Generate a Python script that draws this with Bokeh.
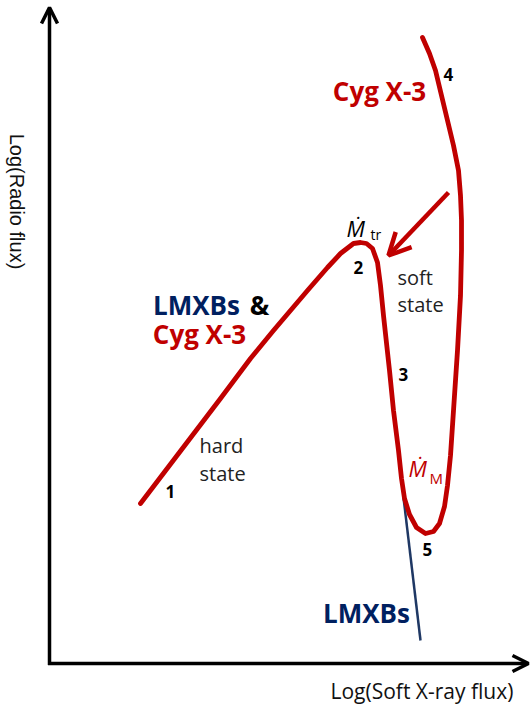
import math
from bokeh.plotting import figure
from bokeh.models import Range1d, Arrow, OpenHead
from bokeh.core.properties import value
from bokeh.embed import file_html
from bokeh.resources import INLINE

# ---- data (arbitrary log units, origin at the axes corner) ----
track_x = [91, 171, 201, 224, 258, 278, 291, 304, 311, 317, 323, 328, 331, 334, 340,
           344, 349, 352, 355, 360, 367, 376, 384, 390, 395, 398, 401, 404,
           408, 411, 412, 412, 411, 409, 404, 398, 392, 386, 380, 373]
track_y = [160, 265, 305, 333, 373, 396, 410, 420, 421, 420, 415, 401, 378, 348, 293,
           253, 213, 185, 165, 149, 136, 130, 132, 140, 157, 178, 208, 253,
           313, 368, 413, 443, 468, 493, 518, 543, 568, 593, 610, 626]
lmxb_x = [354, 371]
lmxb_y = [166, 23]
flare_arrow_x = [399, 339]
flare_arrow_y = [471, 408]
x_axis_end = 479
y_axis_end = 656

RED = "#C00000"
NAVY = "#002060"
BLUE_LINE = "#1F3864"
GREY = "#222222"

p = figure(width=531, height=706, x_range=Range1d(-49, 482), y_range=Range1d(-43, 663),
           output_backend="svg", toolbar_location=None, min_border=0,
           x_axis_type=None, y_axis_type=None)
p.grid.visible = False
p.outline_line_color = None
p.background_fill_color = "white"

# axes with arrows
p.add_layout(Arrow(end=OpenHead(size=16, line_width=3.5, line_color="black"),
                   x_start=0, y_start=-1.5, x_end=0, y_end=y_axis_end,
                   line_width=3.5, line_color="black"))
p.add_layout(Arrow(end=OpenHead(size=16, line_width=3.5, line_color="black"),
                   x_start=-1.5, y_start=0, x_end=x_axis_end, y_end=0,
                   line_width=3.5, line_color="black"))

# LMXB soft-state track
p.line(lmxb_x, lmxb_y, line_color=BLUE_LINE, line_width=2.5)
# Cyg X-3 track
p.line(track_x, track_y, line_color=RED, line_width=4.8, line_join="round", line_cap="round")
# flare arrow
p.add_layout(Arrow(end=OpenHead(size=22, line_width=4.5, line_color=RED),
                   x_start=flare_arrow_x[0], y_start=flare_arrow_y[0],
                   x_end=flare_arrow_x[1], y_end=flare_arrow_y[1],
                   line_width=4.5, line_color=RED))

def txt(x, y, s, size, color="black", style="normal", align="left", font="Open Sans", angle=0.0,
        baseline="alphabetic"):
    if baseline == "alphabetic":
        y = y + 0.36 * size  # compensate rendered baseline offset
    p.text(x=[x], y=[y], text=[s], text_font=value(font), text_font_size=f"{size}px",
           text_font_style=style, text_color=color, text_align=align,
           text_baseline=baseline, angle=angle)

# big labels
txt(330, 563, "Cyg X-3", 26, RED, "bold", "center")
txt(147, 349, "LMXBs", 26, NAVY, "bold", "center")
txt(210, 349, "&", 26, "black", "bold", "center")
txt(150, 320, "Cyg X-3", 26, RED, "bold", "center")
txt(317, 41, "LMXBs", 26, NAVY, "bold", "center")

# state labels
txt(348, 379, "soft", 20, GREY)
txt(348, 352, "state", 20, GREY)
txt(150, 211, "hard", 20, GREY)
txt(150, 183, "state", 20, GREY)

# point numbers
txt(116, 166, "1", 17, "black", "bold")
txt(304, 390, "2", 17, "black", "bold")
txt(349, 283, "3", 17, "black", "bold")
txt(394, 583, "4", 17, "black", "bold")
txt(373, 108, "5", 17, "black", "bold")

# accretion rates
txt(297, 428, "\u1E40", 22, "black", "italic")
txt(321, 424, "tr", 14, "black")
txt(359, 188, "\u1E40", 22, RED, "italic")
txt(380, 180, "M", 15, RED)

# axis labels
txt(281, -35, "Log(Soft X-ray flux)", 21, "#111111")
txt(-33, 462, "Log(Radio flux)", 20, "#111111", "normal", "center", "Liberation Sans",
    -math.pi / 2, "middle")

open("out.html", "w").write(file_html(p, INLINE))
